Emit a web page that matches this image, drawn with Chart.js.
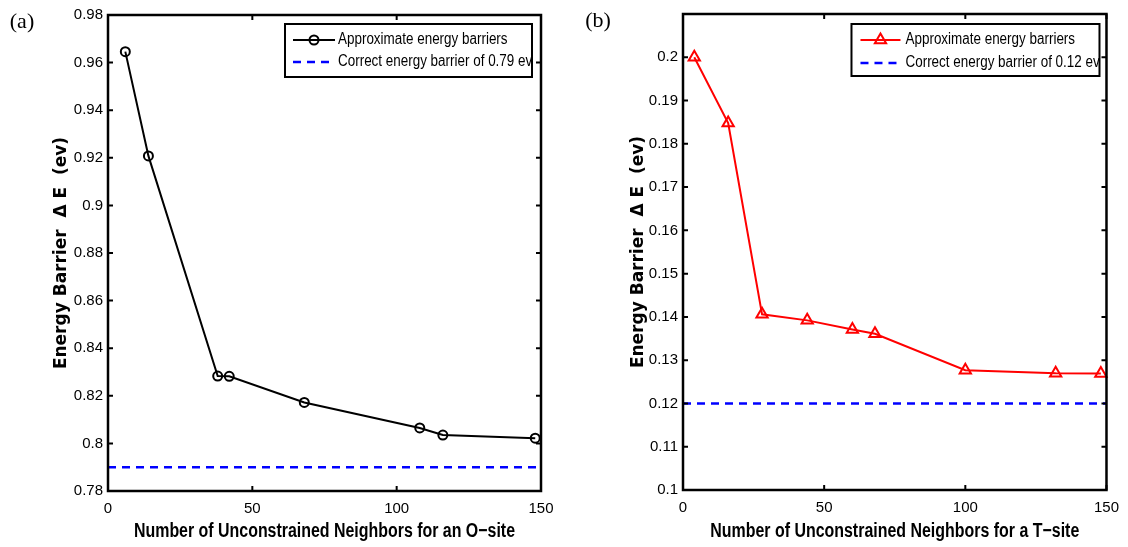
<!DOCTYPE html>
<html>
<head>
<meta charset="utf-8">
<script src="https://cdn.jsdelivr.net/npm/chart.js@4.4.0/dist/chart.umd.min.js"></script>
<style>
  html, body { margin: 0; padding: 0; background: #fff; }
  #wrap { position: relative; width: 1128px; height: 547px; overflow: hidden; }
  .panel { position: absolute; top: 0; width: 564px; height: 547px; }
</style>
</head>
<body>
<div id="wrap">
  <div class="panel" style="left:0"><canvas id="chartA"></canvas></div>
  <div class="panel" style="left:564px"><canvas id="chartB"></canvas></div>
</div>
<script>
// panel (a) - O-site
const oNeighbors = [6, 14, 38, 42, 68, 108, 116, 148];
const oBarriers = [0.9646, 0.9208, 0.8283, 0.8282, 0.8172, 0.8065, 0.8035, 0.8022];
const oCorrect = 0.79;
const oYTicks = [0.78, 0.8, 0.82, 0.84, 0.86, 0.88, 0.9, 0.92, 0.94, 0.96, 0.98];
const oYLabels = ["0.78", "0.8", "0.82", "0.84", "0.86", "0.88", "0.9", "0.92", "0.94", "0.96", "0.98"];

// panel (b) - T-site
const tNeighbors = [4, 16, 28, 44, 60, 68, 100, 132, 148];
const tBarriers = [0.2, 0.1848, 0.1406, 0.1392, 0.1371, 0.1361, 0.1277, 0.127, 0.1269];
const tCorrect = 0.12;
const tYTicks = [0.1, 0.11, 0.12, 0.13, 0.14, 0.15, 0.16, 0.17, 0.18, 0.19, 0.2, 0.21];
const tYLabels = ["0.1", "0.11", "0.12", "0.13", "0.14", "0.15", "0.16", "0.17", "0.18", "0.19", "0.2", ""];

const xTicks = [0, 50, 100, 150];
const xLabels = ["0", "50", "100", "150"];
const correctSpan = [0, 150];

const SANS = '"Liberation Sans", Arial, sans-serif';

function drawMarker(ctx, style, x, y, r) {
  ctx.beginPath();
  if (style === "triangle") {
    ctx.moveTo(x, y - r);
    ctx.lineTo(x + r * Math.sin(Math.PI / 3), y + r / 2);
    ctx.lineTo(x - r * Math.sin(Math.PI / 3), y + r / 2);
    ctx.closePath();
  } else {
    ctx.arc(x, y, r, 0, Math.PI * 2);
  }
  ctx.stroke();
}

// squeezed text, like the narrow Helvetica of the original figure
function narrowText(ctx, text, x, y, k) {
  ctx.save();
  ctx.translate(x, y);
  ctx.scale(k, 1);
  ctx.fillText(text, 0, 0);
  ctx.restore();
}

// box, inward ticks on all four sides, legend, x title and panel tag
const framePlugin = {
  id: "frame",
  afterDraw(chart, args, opts) {
    const { ctx, chartArea: a, scales } = chart;
    const xs = scales.x, ys = scales.y;
    ctx.save();
    ctx.strokeStyle = "#000";
    ctx.lineWidth = 2;
    const len = 5;
    ctx.beginPath();
    xs.ticks.forEach((t) => {
      const px = xs.getPixelForValue(t.value);
      ctx.moveTo(px, a.bottom); ctx.lineTo(px, a.bottom - len);
      ctx.moveTo(px, a.top); ctx.lineTo(px, a.top + len);
    });
    ys.ticks.forEach((t) => {
      const py = ys.getPixelForValue(t.value);
      ctx.moveTo(a.left, py); ctx.lineTo(a.left + len, py);
      ctx.moveTo(a.right, py); ctx.lineTo(a.right - len, py);
    });
    ctx.stroke();
    ctx.lineWidth = 2.5;
    ctx.strokeRect(a.left, a.top, a.right - a.left, a.bottom - a.top);

    // legend
    const lg = opts.legend;
    const bx = a.right - lg.right - lg.width;
    const by = a.top + lg.top;
    ctx.fillStyle = "#fff";
    ctx.fillRect(bx, by, lg.width, lg.height);
    ctx.lineWidth = 2;
    ctx.strokeRect(bx, by, lg.width, lg.height);
    ctx.font = "16px " + SANS;
    ctx.textBaseline = "middle";
    ctx.textAlign = "left";
    chart.data.datasets.forEach((ds, i) => {
      const ry = by + lg.rows[i];
      const sx = bx + lg.sampleLeft;
      ctx.strokeStyle = ds.borderColor;
      ctx.lineWidth = ds.borderWidth;
      ctx.setLineDash(ds.borderDash || []);
      ctx.beginPath();
      ctx.moveTo(sx, ry);
      ctx.lineTo(sx + lg.sampleWidth, ry);
      ctx.stroke();
      ctx.setLineDash([]);
      if (ds.pointRadius > 0) {
        ctx.lineWidth = ds.pointBorderWidth;
        drawMarker(ctx, ds.pointStyle, sx + lg.sampleWidth / 2, ry, ds.pointRadius);
      }
      ctx.fillStyle = "#000";
      narrowText(ctx, ds.label, bx + lg.textLeft, ry, 0.84);
    });

    // x axis title
    const xt = opts.xTitle;
    ctx.font = "bold 20px " + SANS;
    ctx.textAlign = "center";
    ctx.textBaseline = "middle";
    ctx.fillStyle = "#000";
    const k = xt.width / ctx.measureText(xt.text).width;
    narrowText(ctx, xt.text, (a.left + a.right) / 2, a.bottom + xt.offset, k);

    // panel tag
    ctx.font = '22px "Liberation Serif", "DejaVu Serif", serif';
    ctx.fillText(opts.tag.text, opts.tag.x, opts.tag.y);
    ctx.restore();
  },
};

function makeChart(id, cfg) {
  const mainColor = cfg.color;
  return new Chart(document.getElementById(id), {
    type: "line",
    data: {
      datasets: [
        {
          label: "Approximate energy barriers",
          data: cfg.xs.map((x, i) => ({ x: x, y: cfg.ys[i] })),
          borderColor: mainColor,
          borderWidth: 2,
          pointStyle: cfg.marker,
          pointRadius: cfg.markerSize,
          pointBorderWidth: 2,
          pointBorderColor: mainColor,
          pointBackgroundColor: "rgba(0,0,0,0)",
          tension: 0,
          clip: false,
        },
        {
          label: cfg.correctLabel,
          data: correctSpan.map((x) => ({ x: x, y: cfg.correct })),
          borderColor: "#0000ff",
          borderWidth: 2.5,
          borderDash: [8, 6],
          pointRadius: 0,
        },
      ],
    },
    options: {
      responsive: true,
      maintainAspectRatio: false,
      animation: false,
      events: [],
      layout: { padding: cfg.padding },
      plugins: {
        legend: { display: false },
        tooltip: { enabled: false },
        frame: { legend: cfg.legend, tag: cfg.tag, xTitle: cfg.xTitle },
      },
      scales: {
        x: {
          type: "linear",
          min: 0,
          max: 150,
          afterBuildTicks: (s) => { s.ticks = xTicks.map((v) => ({ value: v })); },
          afterFit: (s) => { s.height = cfg.xHeight; },
          grid: { display: false, drawTicks: false },
          border: { display: false },
          ticks: {
            autoSkip: false,
            maxRotation: 0,
            padding: 9,
            color: "#000",
            font: { family: SANS, size: 15 },
            callback: (v, i) => xLabels[i],
          },
        },
        y: {
          type: "linear",
          min: cfg.yTicks[0],
          max: cfg.yTicks[cfg.yTicks.length - 1],
          afterBuildTicks: (s) => { s.ticks = cfg.yTicks.map((v) => ({ value: v })); },
          afterFit: (s) => { s.width = cfg.yWidth; },
          grid: { display: false, drawTicks: false },
          border: { display: false },
          ticks: {
            autoSkip: false,
            padding: 5,
            color: "#000",
            font: { family: SANS, size: 15 },
            callback: (v, i) => cfg.yLabels[i],
          },
          title: {
            display: true,
            text: "Energy Barrier  \u0394 E  (ev)",
            color: "#000",
            font: { family: '"DejaVu Sans", sans-serif', size: 17, weight: "bold" },
            padding: { top: cfg.yTitleOffset, bottom: 0 },
          },
        },
      },
    },
    plugins: [framePlugin],
  });
}

makeChart("chartA", {
  xs: oNeighbors,
  ys: oBarriers,
  correct: oCorrect,
  correctLabel: "Correct energy barrier of 0.79 ev",
  color: "#000000",
  marker: "circle",
  markerSize: 4.5,
  yTicks: oYTicks,
  yLabels: oYLabels,
  xTitle: { text: "Number of Unconstrained Neighbors for an O\u2212site", width: 381, offset: 40 },
  padding: { left: 0, right: 23, top: 15, bottom: 0 },
  yWidth: 108,
  xHeight: 56,
  yTitleOffset: 51,
  legend: { width: 247, height: 53, right: 9, top: 9, sampleLeft: 8, sampleWidth: 42, textLeft: 53, rows: [16, 38] },
  tag: { text: "(a)", x: 22, y: 22 },
});

makeChart("chartB", {
  xs: tNeighbors,
  ys: tBarriers,
  correct: tCorrect,
  correctLabel: "Correct energy barrier of 0.12 ev",
  color: "#ff0000",
  marker: "triangle",
  markerSize: 6.5,
  yTicks: tYTicks,
  yLabels: tYLabels,
  xTitle: { text: "Number of Unconstrained Neighbors for a T\u2212site", width: 369, offset: 41 },
  padding: { left: 0, right: 12, top: 9, bottom: 0 },
  yWidth: 119,
  xHeight: 57,
  yTitleOffset: 64,
  legend: { width: 248, height: 52, right: 7, top: 10, sampleLeft: 9, sampleWidth: 40, textLeft: 54, rows: [16, 39] },
  tag: { text: "(b)", x: 34, y: 21 },
});
</script>
</body>
</html>
